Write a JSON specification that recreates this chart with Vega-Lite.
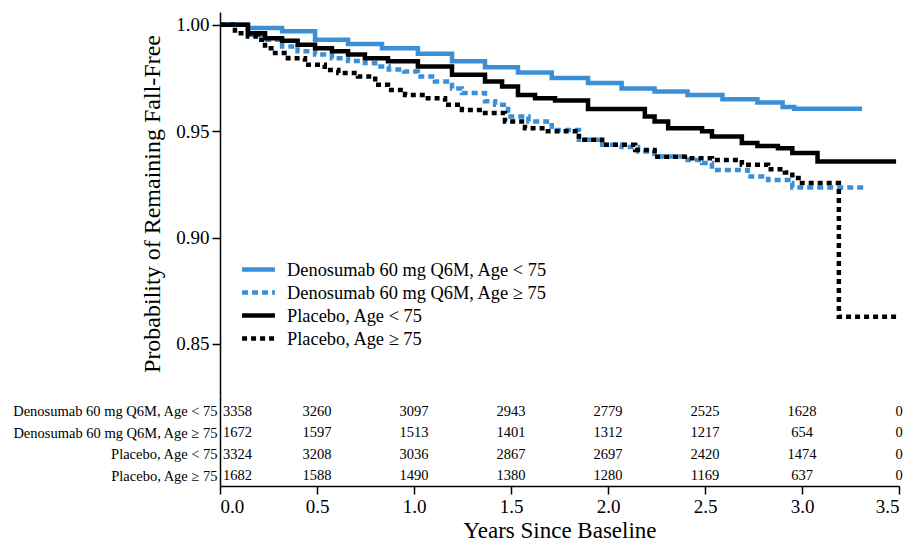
{
  "$schema": "https://vega.github.io/schema/vega-lite/v6.json",
  "padding": {"left": 11, "top": 12, "right": 0, "bottom": 0},
  "background": "white",
  "spacing": 0,
  "datasets": {
    "km": [
      {"g": "Denosumab 60 mg Q6M, Age < 75", "t": 0, "s": 1.0},
      {"g": "Denosumab 60 mg Q6M, Age < 75", "t": 0.144, "s": 0.9985},
      {"g": "Denosumab 60 mg Q6M, Age < 75", "t": 0.32, "s": 0.9969},
      {"g": "Denosumab 60 mg Q6M, Age < 75", "t": 0.49, "s": 0.993},
      {"g": "Denosumab 60 mg Q6M, Age < 75", "t": 0.66, "s": 0.991},
      {"g": "Denosumab 60 mg Q6M, Age < 75", "t": 0.835, "s": 0.989},
      {"g": "Denosumab 60 mg Q6M, Age < 75", "t": 1.02, "s": 0.9864},
      {"g": "Denosumab 60 mg Q6M, Age < 75", "t": 1.196, "s": 0.9828},
      {"g": "Denosumab 60 mg Q6M, Age < 75", "t": 1.366, "s": 0.98},
      {"g": "Denosumab 60 mg Q6M, Age < 75", "t": 1.536, "s": 0.9776},
      {"g": "Denosumab 60 mg Q6M, Age < 75", "t": 1.71, "s": 0.975},
      {"g": "Denosumab 60 mg Q6M, Age < 75", "t": 1.897, "s": 0.9726},
      {"g": "Denosumab 60 mg Q6M, Age < 75", "t": 2.07, "s": 0.97},
      {"g": "Denosumab 60 mg Q6M, Age < 75", "t": 2.24, "s": 0.9686},
      {"g": "Denosumab 60 mg Q6M, Age < 75", "t": 2.41, "s": 0.967},
      {"g": "Denosumab 60 mg Q6M, Age < 75", "t": 2.59, "s": 0.965},
      {"g": "Denosumab 60 mg Q6M, Age < 75", "t": 2.77, "s": 0.9635},
      {"g": "Denosumab 60 mg Q6M, Age < 75", "t": 2.9, "s": 0.9613},
      {"g": "Denosumab 60 mg Q6M, Age < 75", "t": 2.96, "s": 0.9605},
      {"g": "Denosumab 60 mg Q6M, Age < 75", "t": 3.31, "s": 0.9605},

      {"g": "Denosumab 60 mg Q6M, Age ≥ 75", "t": 0, "s": 1.0},
      {"g": "Denosumab 60 mg Q6M, Age ≥ 75", "t": 0.144, "s": 0.9953},
      {"g": "Denosumab 60 mg Q6M, Age ≥ 75", "t": 0.232, "s": 0.993},
      {"g": "Denosumab 60 mg Q6M, Age ≥ 75", "t": 0.32, "s": 0.9898},
      {"g": "Denosumab 60 mg Q6M, Age ≥ 75", "t": 0.4, "s": 0.9875},
      {"g": "Denosumab 60 mg Q6M, Age ≥ 75", "t": 0.49, "s": 0.986},
      {"g": "Denosumab 60 mg Q6M, Age ≥ 75", "t": 0.577, "s": 0.9843},
      {"g": "Denosumab 60 mg Q6M, Age ≥ 75", "t": 0.66, "s": 0.983},
      {"g": "Denosumab 60 mg Q6M, Age ≥ 75", "t": 0.747, "s": 0.982},
      {"g": "Denosumab 60 mg Q6M, Age ≥ 75", "t": 0.8, "s": 0.9804},
      {"g": "Denosumab 60 mg Q6M, Age ≥ 75", "t": 0.87, "s": 0.979},
      {"g": "Denosumab 60 mg Q6M, Age ≥ 75", "t": 0.95, "s": 0.978},
      {"g": "Denosumab 60 mg Q6M, Age ≥ 75", "t": 1.02, "s": 0.9757},
      {"g": "Denosumab 60 mg Q6M, Age ≥ 75", "t": 1.108, "s": 0.9733},
      {"g": "Denosumab 60 mg Q6M, Age ≥ 75", "t": 1.196, "s": 0.97},
      {"g": "Denosumab 60 mg Q6M, Age ≥ 75", "t": 1.247, "s": 0.9679},
      {"g": "Denosumab 60 mg Q6M, Age ≥ 75", "t": 1.366, "s": 0.964},
      {"g": "Denosumab 60 mg Q6M, Age ≥ 75", "t": 1.418, "s": 0.9624},
      {"g": "Denosumab 60 mg Q6M, Age ≥ 75", "t": 1.485, "s": 0.9569},
      {"g": "Denosumab 60 mg Q6M, Age ≥ 75", "t": 1.59, "s": 0.9545},
      {"g": "Denosumab 60 mg Q6M, Age ≥ 75", "t": 1.71, "s": 0.9506},
      {"g": "Denosumab 60 mg Q6M, Age ≥ 75", "t": 1.85, "s": 0.946},
      {"g": "Denosumab 60 mg Q6M, Age ≥ 75", "t": 1.97, "s": 0.9436},
      {"g": "Denosumab 60 mg Q6M, Age ≥ 75", "t": 2.07, "s": 0.9425},
      {"g": "Denosumab 60 mg Q6M, Age ≥ 75", "t": 2.155, "s": 0.9404},
      {"g": "Denosumab 60 mg Q6M, Age ≥ 75", "t": 2.24, "s": 0.9381},
      {"g": "Denosumab 60 mg Q6M, Age ≥ 75", "t": 2.41, "s": 0.9365},
      {"g": "Denosumab 60 mg Q6M, Age ≥ 75", "t": 2.485, "s": 0.935},
      {"g": "Denosumab 60 mg Q6M, Age ≥ 75", "t": 2.536, "s": 0.9318},
      {"g": "Denosumab 60 mg Q6M, Age ≥ 75", "t": 2.72, "s": 0.9287},
      {"g": "Denosumab 60 mg Q6M, Age ≥ 75", "t": 2.825, "s": 0.927},
      {"g": "Denosumab 60 mg Q6M, Age ≥ 75", "t": 2.93, "s": 0.9256},
      {"g": "Denosumab 60 mg Q6M, Age ≥ 75", "t": 2.95, "s": 0.9235},
      {"g": "Denosumab 60 mg Q6M, Age ≥ 75", "t": 3.32, "s": 0.9235},

      {"g": "Placebo, Age < 75", "t": 0, "s": 1.0},
      {"g": "Placebo, Age < 75", "t": 0.144, "s": 0.996},
      {"g": "Placebo, Age < 75", "t": 0.232, "s": 0.9937},
      {"g": "Placebo, Age < 75", "t": 0.32, "s": 0.9925},
      {"g": "Placebo, Age < 75", "t": 0.4, "s": 0.9906},
      {"g": "Placebo, Age < 75", "t": 0.49, "s": 0.989},
      {"g": "Placebo, Age < 75", "t": 0.577, "s": 0.9875},
      {"g": "Placebo, Age < 75", "t": 0.66, "s": 0.986},
      {"g": "Placebo, Age < 75", "t": 0.747, "s": 0.9843},
      {"g": "Placebo, Age < 75", "t": 0.866, "s": 0.9828},
      {"g": "Placebo, Age < 75", "t": 1.02, "s": 0.9804},
      {"g": "Placebo, Age < 75", "t": 1.196, "s": 0.9765},
      {"g": "Placebo, Age < 75", "t": 1.366, "s": 0.9733},
      {"g": "Placebo, Age < 75", "t": 1.454, "s": 0.971},
      {"g": "Placebo, Age < 75", "t": 1.536, "s": 0.967},
      {"g": "Placebo, Age < 75", "t": 1.624, "s": 0.9655},
      {"g": "Placebo, Age < 75", "t": 1.727, "s": 0.9644},
      {"g": "Placebo, Age < 75", "t": 1.897, "s": 0.9604},
      {"g": "Placebo, Age < 75", "t": 2.19, "s": 0.9569},
      {"g": "Placebo, Age < 75", "t": 2.24, "s": 0.9545},
      {"g": "Placebo, Age < 75", "t": 2.31, "s": 0.9514},
      {"g": "Placebo, Age < 75", "t": 2.485, "s": 0.95},
      {"g": "Placebo, Age < 75", "t": 2.536, "s": 0.9475},
      {"g": "Placebo, Age < 75", "t": 2.69, "s": 0.9444},
      {"g": "Placebo, Age < 75", "t": 2.77, "s": 0.943},
      {"g": "Placebo, Age < 75", "t": 2.876, "s": 0.942},
      {"g": "Placebo, Age < 75", "t": 2.95, "s": 0.9397},
      {"g": "Placebo, Age < 75", "t": 3.08, "s": 0.9357},
      {"g": "Placebo, Age < 75", "t": 3.485, "s": 0.9357},

      {"g": "Placebo, Age ≥ 75", "t": 0, "s": 1.0},
      {"g": "Placebo, Age ≥ 75", "t": 0.077, "s": 0.996},
      {"g": "Placebo, Age ≥ 75", "t": 0.144, "s": 0.9945},
      {"g": "Placebo, Age ≥ 75", "t": 0.196, "s": 0.993},
      {"g": "Placebo, Age ≥ 75", "t": 0.232, "s": 0.989},
      {"g": "Placebo, Age ≥ 75", "t": 0.284, "s": 0.9867},
      {"g": "Placebo, Age ≥ 75", "t": 0.35, "s": 0.9843},
      {"g": "Placebo, Age ≥ 75", "t": 0.438, "s": 0.9812},
      {"g": "Placebo, Age ≥ 75", "t": 0.54, "s": 0.9788},
      {"g": "Placebo, Age ≥ 75", "t": 0.61, "s": 0.9773},
      {"g": "Placebo, Age ≥ 75", "t": 0.711, "s": 0.9757},
      {"g": "Placebo, Age ≥ 75", "t": 0.8, "s": 0.9718},
      {"g": "Placebo, Age ≥ 75", "t": 0.866, "s": 0.9694},
      {"g": "Placebo, Age ≥ 75", "t": 0.954, "s": 0.967},
      {"g": "Placebo, Age ≥ 75", "t": 1.057, "s": 0.9655},
      {"g": "Placebo, Age ≥ 75", "t": 1.16, "s": 0.9624},
      {"g": "Placebo, Age ≥ 75", "t": 1.247, "s": 0.96},
      {"g": "Placebo, Age ≥ 75", "t": 1.366, "s": 0.9585},
      {"g": "Placebo, Age ≥ 75", "t": 1.469, "s": 0.9545},
      {"g": "Placebo, Age ≥ 75", "t": 1.572, "s": 0.9514},
      {"g": "Placebo, Age ≥ 75", "t": 1.675, "s": 0.95},
      {"g": "Placebo, Age ≥ 75", "t": 1.85, "s": 0.946},
      {"g": "Placebo, Age ≥ 75", "t": 1.97, "s": 0.9436},
      {"g": "Placebo, Age ≥ 75", "t": 2.14, "s": 0.9412},
      {"g": "Placebo, Age ≥ 75", "t": 2.24, "s": 0.938},
      {"g": "Placebo, Age ≥ 75", "t": 2.41, "s": 0.9373},
      {"g": "Placebo, Age ≥ 75", "t": 2.536, "s": 0.9365},
      {"g": "Placebo, Age ≥ 75", "t": 2.69, "s": 0.9342},
      {"g": "Placebo, Age ≥ 75", "t": 2.825, "s": 0.9321},
      {"g": "Placebo, Age ≥ 75", "t": 2.912, "s": 0.9306},
      {"g": "Placebo, Age ≥ 75", "t": 2.95, "s": 0.928},
      {"g": "Placebo, Age ≥ 75", "t": 3.0, "s": 0.9256},
      {"g": "Placebo, Age ≥ 75", "t": 3.19, "s": 0.8628},
      {"g": "Placebo, Age ≥ 75", "t": 3.495, "s": 0.8628}
    ],
    "risk": [
      {"g": "Denosumab 60 mg Q6M, Age < 75", "t": 0, "n": 3358},
      {"g": "Denosumab 60 mg Q6M, Age < 75", "t": 0.5, "n": 3260},
      {"g": "Denosumab 60 mg Q6M, Age < 75", "t": 1.0, "n": 3097},
      {"g": "Denosumab 60 mg Q6M, Age < 75", "t": 1.5, "n": 2943},
      {"g": "Denosumab 60 mg Q6M, Age < 75", "t": 2.0, "n": 2779},
      {"g": "Denosumab 60 mg Q6M, Age < 75", "t": 2.5, "n": 2525},
      {"g": "Denosumab 60 mg Q6M, Age < 75", "t": 3.0, "n": 1628},
      {"g": "Denosumab 60 mg Q6M, Age < 75", "t": 3.5, "n": 0},
      {"g": "Denosumab 60 mg Q6M, Age ≥ 75", "t": 0, "n": 1672},
      {"g": "Denosumab 60 mg Q6M, Age ≥ 75", "t": 0.5, "n": 1597},
      {"g": "Denosumab 60 mg Q6M, Age ≥ 75", "t": 1.0, "n": 1513},
      {"g": "Denosumab 60 mg Q6M, Age ≥ 75", "t": 1.5, "n": 1401},
      {"g": "Denosumab 60 mg Q6M, Age ≥ 75", "t": 2.0, "n": 1312},
      {"g": "Denosumab 60 mg Q6M, Age ≥ 75", "t": 2.5, "n": 1217},
      {"g": "Denosumab 60 mg Q6M, Age ≥ 75", "t": 3.0, "n": 654},
      {"g": "Denosumab 60 mg Q6M, Age ≥ 75", "t": 3.5, "n": 0},
      {"g": "Placebo, Age < 75", "t": 0, "n": 3324},
      {"g": "Placebo, Age < 75", "t": 0.5, "n": 3208},
      {"g": "Placebo, Age < 75", "t": 1.0, "n": 3036},
      {"g": "Placebo, Age < 75", "t": 1.5, "n": 2867},
      {"g": "Placebo, Age < 75", "t": 2.0, "n": 2697},
      {"g": "Placebo, Age < 75", "t": 2.5, "n": 2420},
      {"g": "Placebo, Age < 75", "t": 3.0, "n": 1474},
      {"g": "Placebo, Age < 75", "t": 3.5, "n": 0},
      {"g": "Placebo, Age ≥ 75", "t": 0, "n": 1682},
      {"g": "Placebo, Age ≥ 75", "t": 0.5, "n": 1588},
      {"g": "Placebo, Age ≥ 75", "t": 1.0, "n": 1490},
      {"g": "Placebo, Age ≥ 75", "t": 1.5, "n": 1380},
      {"g": "Placebo, Age ≥ 75", "t": 2.0, "n": 1280},
      {"g": "Placebo, Age ≥ 75", "t": 2.5, "n": 1169},
      {"g": "Placebo, Age ≥ 75", "t": 3.0, "n": 637},
      {"g": "Placebo, Age ≥ 75", "t": 3.5, "n": 0}
    ]
  },
  "vconcat": [
    {
      "width": 679,
      "height": 383,
      "data": {"name": "km"},
      "mark": {"type": "line", "interpolate": "step-after"},
      "encoding": {
        "x": {"field": "t", "type": "quantitative", "scale": {"domain": [0, 3.5], "nice": false}, "axis": null},
        "y": {
          "field": "s", "type": "quantitative",
          "scale": {"domain": [0.826, 1.006], "nice": false, "zero": false},
          "axis": {"values": [0.85, 0.9, 0.95, 1.0], "format": ".2f", "title": "Probability of Remaining Fall-Free", "tickSize": 8, "labelPadding": 3, "titlePadding": 11, "labelFontSize": 19, "titleFontSize": 24}
        },
        "color": {
          "field": "g", "type": "nominal",
          "scale": {"domain": ["Denosumab 60 mg Q6M, Age < 75", "Denosumab 60 mg Q6M, Age ≥ 75", "Placebo, Age < 75", "Placebo, Age ≥ 75"], "range": ["#3a8fd6", "#3a8fd6", "#000000", "#000000"]},
          "legend": {"orient": "none", "legendX": 25, "legendY": 244, "title": null, "symbolType": "M-1.5,0H1.5", "symbolSize": 480, "symbolStrokeWidth": 4.5, "labelFontSize": 18.4, "labelFont": "Liberation Serif", "labelColor": "black", "rowPadding": -1, "padding": 0, "labelOffset": 15, "labelLimit": 400}
        },
        "strokeDash": {
          "field": "g", "type": "nominal",
          "scale": {"domain": ["Denosumab 60 mg Q6M, Age < 75", "Denosumab 60 mg Q6M, Age ≥ 75", "Placebo, Age < 75", "Placebo, Age ≥ 75"], "range": [[1, 0], [6, 4], [1, 0], [5, 4]]},
          "legend": {"orient": "none", "legendX": 25, "legendY": 244, "title": null, "symbolType": "M-1.5,0H1.5", "symbolSize": 480, "symbolStrokeWidth": 4.5, "labelFontSize": 18.4, "labelFont": "Liberation Serif", "labelColor": "black", "rowPadding": -1, "padding": 0, "labelOffset": 15, "labelLimit": 400}
        },
        "strokeWidth": {
          "field": "g", "type": "nominal",
          "scale": {"domain": ["Denosumab 60 mg Q6M, Age < 75", "Denosumab 60 mg Q6M, Age ≥ 75", "Placebo, Age < 75", "Placebo, Age ≥ 75"], "range": [4.5, 4.5, 3.5, 4.5]},
          "legend": null
        }
      }
    },
    {
      "width": 679,
      "height": 91,
      "data": {"name": "risk"},
      "encoding": {
        "x": {
          "field": "t", "type": "quantitative", "scale": {"domain": [0, 3.5], "nice": false},
          "axis": {"values": [0, 0.5, 1, 1.5, 2, 2.5, 3, 3.5], "format": ".1f", "title": "Years Since Baseline", "tickSize": 8, "labelPadding": 3, "titlePadding": 3, "labelFontSize": 19, "titleFontSize": 23}
        },
        "y": {
          "field": "g", "type": "nominal",
          "scale": {"type": "point", "domain": ["Denosumab 60 mg Q6M, Age < 75", "Denosumab 60 mg Q6M, Age ≥ 75", "Placebo, Age < 75", "Placebo, Age ≥ 75"], "padding": 0.63, "align": 0.63},
          "axis": {"title": null, "ticks": false, "labelPadding": 3, "labelFontSize": 14.5, "labelLimit": 400}
        },
        "text": {"field": "n", "type": "quantitative"}
      },
      "layer": [
        {
          "transform": [{"filter": "datum.t == 0"}],
          "mark": {"type": "text", "align": "left", "dx": 3, "font": "Liberation Serif", "fontSize": 14.5, "color": "black"}
        },
        {
          "transform": [{"filter": "datum.t > 0"}],
          "mark": {"type": "text", "align": "center", "font": "Liberation Serif", "fontSize": 14.5, "color": "black"}
        }
      ]
    }
  ],
  "config": {
    "view": {"stroke": null},
    "font": "Liberation Serif",
    "axis": {"labelFont": "Liberation Serif", "titleFont": "Liberation Serif", "grid": false, "domainColor": "black", "tickColor": "black", "labelColor": "black", "titleColor": "black", "titleFontWeight": "normal", "domainWidth": 1.5, "tickWidth": 1.5}
  }
}
